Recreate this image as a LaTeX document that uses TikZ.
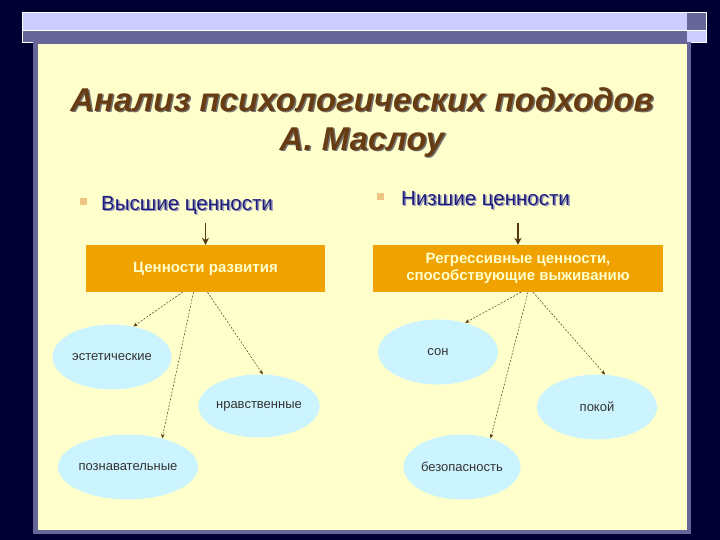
\documentclass[tikz,border=0pt]{standalone}
\usepackage{fontspec}
\setmainfont{Liberation Sans}
\usetikzlibrary{arrows.meta,shapes.geometric}
\definecolor{navy}{RGB}{0,0,51}
\definecolor{lavender}{RGB}{204,204,255}
\definecolor{slate}{RGB}{102,102,153}
\definecolor{cream}{RGB}{255,255,204}
\definecolor{gold}{RGB}{240,162,0}
\definecolor{skycyan}{RGB}{204,244,255}
\definecolor{titlebrown}{RGB}{104,60,18}
\definecolor{headblue}{RGB}{28,28,124}
\definecolor{bullettan}{RGB}{238,196,130}
\definecolor{arrowbrown}{RGB}{85,55,20}

\begin{document}
\begin{tikzpicture}[x=1pt,y=-1pt,
    valuebox/.style={fill=gold, text=cream, align=center, inner sep=0pt, minimum height=47pt, font=\bfseries\fontsize{15}{17.5}\selectfont},
    oval/.style={ellipse, fill=skycyan, inner sep=0pt, minimum width=120pt, minimum height=65pt, text=black!80, font=\fontsize{13}{15}\selectfont},
    heading/.style={anchor=west, inner sep=2pt, font=\fontsize{20.5}{25}\selectfont},
    bullet/.style={fill=bullettan, minimum size=7pt, inner sep=0pt},
    fanarrow/.style={draw=arrowbrown, line width=0.5pt, dash pattern=on 2pt off 1.5pt, -{Stealth[length=4.5pt,width=3.5pt]}},
    downarrow/.style={draw=arrowbrown, line width=1.8pt, -{Stealth[length=7pt,width=7pt]}}]
    \useasboundingbox (0,0) rectangle (720,540);
    \fill[navy] (0,0) rectangle (720,540);
    % top band and frame
    \fill[lavender] (22,12) rectangle (687,30);
    \fill[slate] (22,30) rectangle (687,42);
    \fill[slate] (687,12) rectangle (706,30);
    \fill[lavender] (687,30) rectangle (706,42);
    \draw[white, line width=0.6pt] (22,30) -- (706,30);
    \draw[white, line width=0.6pt] (22,12) rectangle (706,42);
    \fill[slate] (33,42) rectangle (691,534);
    \fill[cream] (38,44) rectangle (687,530);
    % title
    \node[text=black!55, align=center, font=\bfseries\itshape\fontsize{33}{39}\selectfont] at (363.5,123.5) {Анализ психологических подходов\\А. Маслоу};
    \node[text=titlebrown, align=center, font=\bfseries\itshape\fontsize{33}{39}\selectfont] (title) at (362,122) {Анализ психологических подходов\\А. Маслоу};
    % headings
    \node[bullet] (bl) at (83,202) {};
    \node[bullet] (br) at (380,197) {};
    \node[heading, text=slate!70] at (100.5,206.5) {Высшие ценности};
    \node[heading, text=headblue] (hl) at (99,205) {Высшие ценности};
    \node[heading, text=slate!70] at (400.5,201.5) {Низшие ценности};
    \node[heading, text=headblue] (hr) at (399,200) {Низшие ценности};
    % boxes
    \node[valuebox, minimum width=239pt] (boxl) at (205.5,268.5) {Ценности развития};
    \node[valuebox, minimum width=290pt] (boxr) at (518,268.5) {Регрессивные ценности,\\способствующие выживанию};
    \draw[downarrow] ([yshift=22pt]boxl.north) -- (boxl.north);
    \draw[downarrow] ([yshift=22pt]boxr.north) -- (boxr.north);
    % higher values
    \node[oval, minimum width=119pt] (est) at (112,357) {эстетические};
    \node[oval, minimum width=121pt, minimum height=63pt] (mor) at (259,406) {нравственные};
    \node[oval, minimum width=140pt] (cog) at (128,467) {познавательные};
    % lower values
    \node[oval] (sleep) at (438,352) {сон};
    \node[oval] (rest) at (597,407) {покой};
    \node[oval, minimum width=117pt] (safe) at (462,467) {безопасность};
    \draw[fanarrow] ([xshift=-23pt]boxl.south) -- (est.55);
    \draw[fanarrow] ([xshift=-12pt]boxl.south) -- (cog.40);
    \draw[fanarrow] ([xshift=2pt]boxl.south) -- (mor.83);
    \draw[fanarrow] ([xshift=3pt]boxr.south) -- (sleep.47);
    \draw[fanarrow] ([xshift=10pt]boxr.south) -- (safe.45);
    \draw[fanarrow] ([xshift=15pt]boxr.south) -- (rest.76);
\end{tikzpicture}
\end{document}
